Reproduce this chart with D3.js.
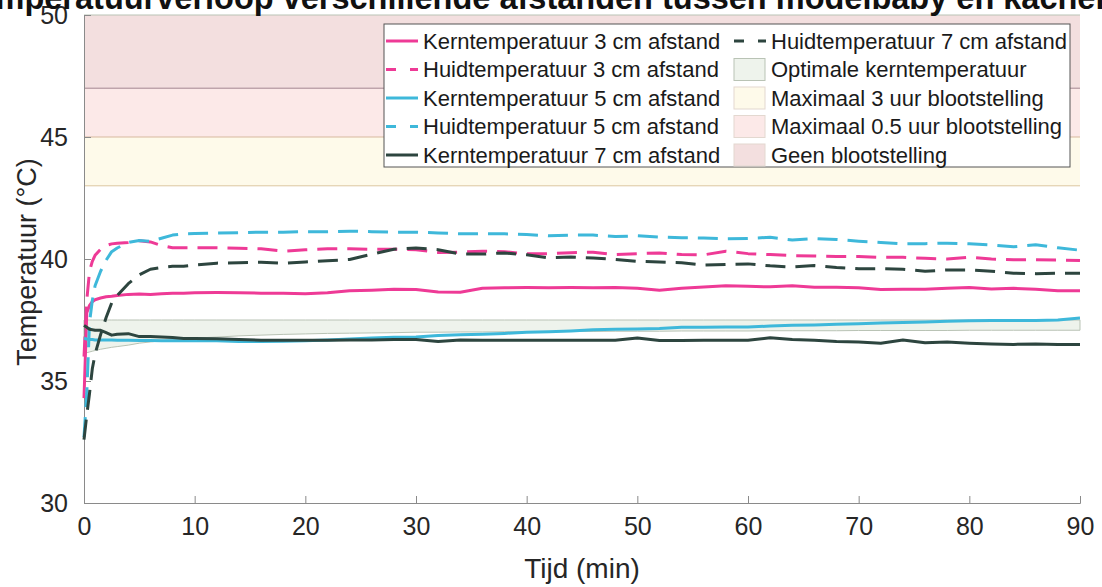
<!DOCTYPE html>
<html>
<head>
<meta charset="utf-8">
<script src="https://cdn.jsdelivr.net/npm/d3@7"></script>
<style>
  body { margin: 0; background: #fff; }
  svg { display: block; font-family: 'Liberation Sans', Arial, sans-serif; }
</style>
</head>
<body>
<svg class="chart" width="1102" height="587"></svg>
<script>
const WIDTH = 1102;
const HEIGHT = 587;
const LINE_WIDTH = 3;

// time in minutes
const time = [0, 0.25, 0.5, 0.75, 1, 1.5, 2, 2.5, 3, 4, 5, 6, 7, 8, 9, 10,
  12, 14, 16, 18, 20, 22, 24, 26, 28, 30, 32, 34, 36, 38, 40, 42, 44, 46, 48, 50,
  52, 54, 56, 58, 60, 62, 64, 66, 68, 70, 72, 74, 76, 78, 80, 82, 84, 86, 88, 90];

const kern3 = [34.3, 37.8, 38.1, 38.25, 38.33, 38.4, 38.45, 38.47, 38.5, 38.55, 38.57, 38.55, 38.58, 38.6, 38.6, 38.62,
  38.63, 38.62, 38.6, 38.6, 38.58, 38.62, 38.7, 38.72, 38.76, 38.75, 38.65, 38.64, 38.8, 38.82, 38.83, 38.82, 38.83, 38.82, 38.83, 38.8,
  38.72, 38.8, 38.85, 38.9, 38.88, 38.86, 38.9, 38.84, 38.84, 38.82, 38.75, 38.76, 38.76, 38.8, 38.83, 38.77, 38.8, 38.76, 38.7, 38.7];
const huid3 = [36.0, 38.3, 39.5, 39.9, 40.15, 40.4, 40.55, 40.62, 40.65, 40.68, 40.75, 40.7, 40.55, 40.46, 40.46, 40.46,
  40.46, 40.44, 40.42, 40.32, 40.38, 40.42, 40.42, 40.4, 40.4, 40.38, 40.27, 40.28, 40.32, 40.3, 40.21, 40.22, 40.26, 40.28, 40.18, 40.22,
  40.25, 40.18, 40.17, 40.32, 40.22, 40.18, 40.14, 40.12, 40.1, 40.1, 40.07, 40.07, 40.03, 40.0, 40.07, 40.0, 39.97, 39.97, 39.96, 39.94];
const kern5 = [36.75, 36.72, 36.7, 36.7, 36.68, 36.68, 36.68, 36.68, 36.67, 36.67, 36.66, 36.66, 36.65, 36.65, 36.65, 36.65,
  36.65, 36.62, 36.62, 36.63, 36.65, 36.68, 36.72, 36.76, 36.79, 36.8, 36.86, 36.9, 36.92, 36.95, 37.0, 37.02, 37.05, 37.1, 37.12, 37.13,
  37.15, 37.2, 37.2, 37.21, 37.21, 37.25, 37.28, 37.3, 37.33, 37.35, 37.38, 37.4, 37.42, 37.45, 37.47, 37.48, 37.48, 37.48, 37.5, 37.58];
const huid5 = [32.7, 34.5, 37.4, 38.3, 38.9, 39.5, 39.95, 40.3, 40.45, 40.68, 40.76, 40.72, 40.85, 40.98, 41.03, 41.04,
  41.06, 41.08, 41.1, 41.1, 41.12, 41.12, 41.14, 41.12, 41.1, 41.1, 41.07, 41.03, 41.04, 41.03, 41.0, 40.95, 40.98, 40.98, 40.92, 40.95,
  40.9, 40.87, 40.86, 40.83, 40.84, 40.89, 40.78, 40.84, 40.8, 40.73, 40.68, 40.62, 40.63, 40.65, 40.62, 40.57, 40.5, 40.58, 40.46, 40.36];
const kern7 = [37.28, 37.2, 37.12, 37.1, 37.08, 37.08, 36.98, 36.88, 36.92, 36.94, 36.82, 36.82, 36.8, 36.78, 36.74, 36.74,
  36.73, 36.7, 36.67, 36.67, 36.67, 36.67, 36.68, 36.68, 36.7, 36.7, 36.62, 36.68, 36.67, 36.67, 36.67, 36.67, 36.67, 36.67, 36.67, 36.76,
  36.66, 36.66, 36.67, 36.67, 36.67, 36.77, 36.7, 36.67, 36.62, 36.6, 36.55, 36.68, 36.57, 36.6, 36.55, 36.52, 36.5, 36.52, 36.5, 36.5];
const huid7 = [32.6, 33.6, 34.5, 35.5, 36.1, 36.9, 37.6, 38.2, 38.5, 38.99, 39.35, 39.58, 39.65, 39.7, 39.7, 39.75,
  39.83, 39.85, 39.87, 39.83, 39.88, 39.93, 39.98, 40.2, 40.4, 40.45, 40.38, 40.2, 40.2, 40.25, 40.17, 40.05, 40.08, 40.04, 39.98, 39.9,
  39.88, 39.85, 39.75, 39.78, 39.8, 39.72, 39.67, 39.73, 39.65, 39.6, 39.6, 39.58, 39.5, 39.55, 39.55, 39.5, 39.42, 39.4, 39.42, 39.42];

// optimal core temperature band: lower edge curve, upper edge fixed
const optimalLow = [36.12, 36.16, 36.19, 36.22, 36.25, 36.3, 36.34, 36.38, 36.41, 36.47, 36.55, 36.6, 36.65, 36.7, 36.73, 36.76,
  36.8, 36.85, 36.88, 36.91, 36.93, 36.95, 36.96, 36.97, 36.98, 37.0, 37.0, 37.01, 37.01, 37.02, 37.02, 37.03, 37.03, 37.03, 37.04, 37.04,
  37.04, 37.05, 37.05, 37.05, 37.05, 37.06, 37.06, 37.06, 37.06, 37.07, 37.07, 37.07, 37.07, 37.07, 37.08, 37.08, 37.08, 37.08, 37.08, 37.08];
const optimalHigh = 37.5;

// exposure bands [from, to]
const bandNames = ['Maximaal 3 uur blootstelling', 'Maximaal 0.5 uur blootstelling', 'Geen blootstelling'];
const bandRanges = [[43, 45], [45, 47], [47, 50]];

const seriesNames = ['Kerntemperatuur 3 cm afstand', 'Huidtemperatuur 3 cm afstand', 'Kerntemperatuur 5 cm afstand',
  'Huidtemperatuur 5 cm afstand', 'Kerntemperatuur 7 cm afstand', 'Huidtemperatuur 7 cm afstand'];
const seriesValues = [kern3, huid3, kern5, huid5, kern7, huid7];

const xTicks = [0, 10, 20, 30, 40, 50, 60, 70, 80, 90];
const yTicks = [30, 35, 40, 45, 50];

const COLORS = ['#EE3A96', '#EE3A96', '#3EB8DA', '#3EB8DA', '#2D453F', '#2D453F'];
const DASHED = [false, true, false, true, false, true];
const BAND_FILL = ['#FEFAEA', '#FCE9E8', '#F3DFDF'];
const BAND_EDGE = ['#DCC6A0', '#D7B89E', '#A28590'];
const OPT_FILL = '#EEF3EC';
const OPT_EDGE = '#B9C3B5';

const x = d3.scaleLinear().domain([0, 90]).range([84, 1080]);
const y = d3.scaleLinear().domain([30, 50]).range([503, 15]);

const svg = d3.select('.chart');

// exposure bands
svg.append('g').selectAll('rect')
  .data(bandRanges)
  .enter().append('rect')
  .attr('x', x(0))
  .attr('width', x(90) - x(0))
  .attr('y', (d) => y(d[1]))
  .attr('height', (d) => y(d[0]) - y(d[1]))
  .style('fill', (d, i) => BAND_FILL[i]);

svg.append('g').selectAll('line')
  .data(bandRanges)
  .enter().append('line')
  .attr('x1', x(0))
  .attr('x2', x(90))
  .attr('y1', (d) => y(d[0]))
  .attr('y2', (d) => y(d[0]))
  .style('stroke', (d, i) => BAND_EDGE[i])
  .style('stroke-width', 1);

svg.append('line')
  .attr('x1', x(0)).attr('x2', x(90))
  .attr('y1', y(50)).attr('y2', y(50))
  .style('stroke', '#B9C3B5')
  .style('stroke-width', 1);

// optimal band
const optData = time.map((t, i) => ({ t, lo: optimalLow[i] }));
svg.append('path')
  .datum(optData)
  .attr('d', d3.area().x((d) => x(d.t)).y0((d) => y(d.lo)).y1(y(optimalHigh)))
  .style('fill', OPT_FILL)
  .style('stroke', OPT_EDGE)
  .style('stroke-width', 1);

// axes
const xAxis = svg.append('g')
  .attr('transform', `translate(0,${y(30)})`)
  .call(d3.axisBottom(x).tickValues(xTicks).tickSize(-7).tickPadding(14).tickFormat(d3.format('d')));
const yAxis = svg.append('g')
  .attr('transform', `translate(${x(0)},0)`)
  .call(d3.axisLeft(y).tickValues(yTicks).tickSize(-7).tickPadding(16).tickFormat(d3.format('d')));

[xAxis, yAxis].forEach((ax) => {
  ax.select('.domain').style('stroke', '#8a8a8a');
  ax.selectAll('.tick line').style('stroke', '#8a8a8a');
  ax.selectAll('.tick text')
    .style('font-size', '25px')
    .style('fill', '#262626')
    .style('font-family', "'Liberation Sans', Arial, sans-serif");
});
yAxis.selectAll('.tick text').attr('dy', '0.35em');

// series lines
const line = d3.line().x((d) => x(d[0])).y((d) => y(d[1]));
svg.append('g').selectAll('path')
  .data(seriesValues)
  .enter().append('path')
  .attr('d', (vals) => line(vals.map((v, i) => [time[i], v])))
  .style('fill', 'none')
  .style('stroke', (d, i) => COLORS[i])
  .style('stroke-width', LINE_WIDTH)
  .style('stroke-linejoin', 'round')
  .style('stroke-dasharray', (d, i) => (DASHED[i] ? '20,10' : null));

// axis labels + title
svg.append('text')
  .attr('x', 582).attr('y', 578)
  .attr('text-anchor', 'middle')
  .style('font-size', '28px')
  .style('fill', '#262626')
  .text('Tijd (min)');

svg.append('text')
  .attr('transform', 'translate(36,262) rotate(-90)')
  .attr('text-anchor', 'middle')
  .style('font-size', '27px')
  .style('fill', '#262626')
  .text('Temperatuur (°C)');

// title is cut off by the top edge, as in the source picture
svg.append('text')
  .attr('x', -40).attr('y', 9)
  .style('font-size', '32.5px')
  .style('font-weight', 'bold')
  .style('fill', '#111')
  .text('Temperatuurverloop verschillende afstanden tussen modelbaby en kachel');

// legend
const legend = svg.append('g');
legend.append('rect')
  .attr('x', 384).attr('y', 24)
  .attr('width', 686).attr('height', 143)
  .style('fill', '#fff')
  .style('stroke', '#555')
  .style('stroke-width', 1);

const ROW_Y = [41, 69.5, 98, 126.5, 155];
const legendItems = [
  ...seriesNames.map((name, i) => ({ name, kind: 'line', i })),
  { name: 'Optimale kerntemperatuur', kind: 'patch', fill: OPT_FILL, edge: OPT_EDGE },
  ...bandNames.map((name, i) => ({ name, kind: 'patch', fill: BAND_FILL[i], edge: '#E3D8D0' })),
];

legendItems.forEach((item, k) => {
  const col = k < 5 ? 0 : 1;
  const row = k < 5 ? k : k - 5;
  const sx = col === 0 ? 386 : 734;
  const cy = ROW_Y[row];
  if (item.kind === 'line') {
    legend.append('line')
      .attr('x1', sx).attr('x2', sx + 32)
      .attr('y1', cy).attr('y2', cy)
      .style('stroke', COLORS[item.i])
      .style('stroke-width', LINE_WIDTH)
      .style('stroke-dasharray', DASHED[item.i] ? '10,14' : null);
  } else {
    legend.append('rect')
      .attr('x', sx).attr('y', cy - 11)
      .attr('width', 31).attr('height', 22)
      .style('fill', item.fill)
      .style('stroke', item.edge)
      .style('stroke-width', 1);
  }
  legend.append('text')
    .attr('x', sx + 37).attr('y', cy)
    .attr('dy', '0.35em')
    .style('font-size', '22px')
    .style('fill', '#1a1a1a')
    .text(item.name);
});
</script>
</body>
</html>
